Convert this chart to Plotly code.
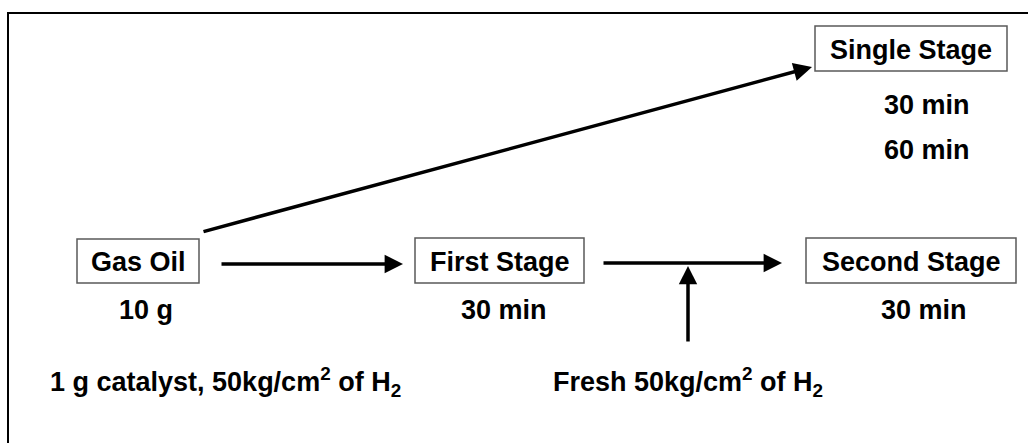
import plotly.graph_objects as go

W, H = 1028, 443

# Node boxes
box_labels = ["Gas Oil", "First Stage", "Second Stage", "Single Stage"]
box_x0 = [77, 415, 806, 815]
box_x1 = [199, 584, 1016, 1007]
box_y0 = [239, 238, 238, 26]
box_y1 = [283, 283, 283, 71]

# Sub labels under boxes
sub_labels = ["10 g", "30 min", "30 min", "30 min", "60 min"]
sub_x = [146, 504, 924, 927, 927]
sub_y = [310, 310, 310, 105, 150]

# Condition notes
note_labels = ["1 g catalyst, 50kg/cm<sup>2</sup> of H<sub>2</sub>",
               "Fresh 50kg/cm<sup>2</sup> of H<sub>2</sub>"]
note_x = [225, 688]
note_y = [382, 382]

# Arrows: tail (ax, ay) -> tip (x, y)
arr_ax = [220, 602, 688, 202]
arr_ay = [264, 263, 343, 232]
arr_x = [403, 782, 688, 812]
arr_y = [264, 263, 266, 67]

FONT = "Liberation Sans, Arial, sans-serif"
FS = 27

fig = go.Figure()

# Outer frame
fig.add_shape(type="rect", x0=8, x1=W + 20, y0=13, y1=H + 20,
              line=dict(color="black", width=2), xref="x", yref="y")

for lab, x0, x1, y0, y1 in zip(box_labels, box_x0, box_x1, box_y0, box_y1):
    fig.add_shape(type="rect", x0=x0, x1=x1, y0=y0, y1=y1,
                  line=dict(color="#5a5a5a", width=1.5), xref="x", yref="y")
    fig.add_annotation(x=(x0 + x1) / 2, y=(y0 + y1) / 2 + 1, text="<b>%s</b>" % lab,
                       showarrow=False, font=dict(family=FONT, size=FS, color="black"),
                       xanchor="center", yanchor="middle")

for lab, x, y in zip(sub_labels, sub_x, sub_y):
    fig.add_annotation(x=x, y=y, text="<b>%s</b>" % lab, showarrow=False,
                       font=dict(family=FONT, size=FS, color="black"),
                       xanchor="center", yanchor="middle")

for lab, x, y in zip(note_labels, note_x, note_y):
    fig.add_annotation(x=x, y=y, text="<b>%s</b>" % lab, showarrow=False,
                       font=dict(family=FONT, size=FS, color="black"),
                       xanchor="center", yanchor="middle")

for ax, ay, x, y in zip(arr_ax, arr_ay, arr_x, arr_y):
    fig.add_annotation(x=x, y=y, ax=ax, ay=ay, xref="x", yref="y", axref="x", ayref="y",
                       text="", showarrow=True, arrowhead=2, arrowsize=1.05,
                       arrowwidth=3.5, arrowcolor="black", standoff=0, startstandoff=0)

fig.update_xaxes(range=[0, W], visible=False, fixedrange=True)
fig.update_yaxes(range=[H, 0], visible=False, fixedrange=True)
fig.update_layout(width=W, height=H, margin=dict(l=0, r=0, t=0, b=0),
                  plot_bgcolor="white", paper_bgcolor="white")

fig.write_html("out.html", config={"displayModeBar": False},
               post_script="document.body.style.margin='0';document.body.style.padding='0';")
